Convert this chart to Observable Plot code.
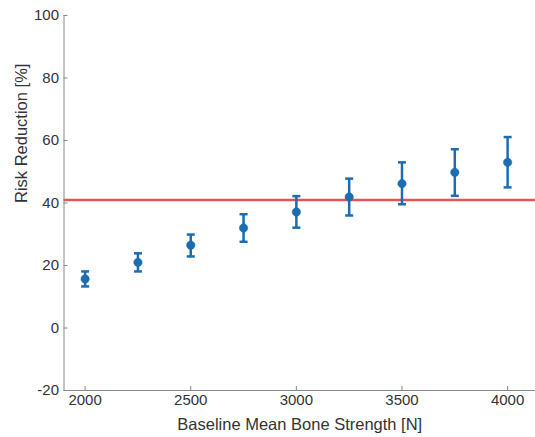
<!DOCTYPE html>
<html>
<head>
<meta charset="utf-8">
<script src="https://cdn.jsdelivr.net/npm/d3@7"></script>
<script src="https://cdn.jsdelivr.net/npm/@observablehq/plot@0.6"></script>
<style>
  html, body { margin: 0; padding: 0; background: #fff; }
  #chart { width: 535px; height: 437px; }
  svg { font-family: "Liberation Sans", Arial, sans-serif; }
</style>
</head>
<body>
<div id="chart"></div>
<script>
const strength = [2000, 2250, 2500, 2750, 3000, 3250, 3500, 3750, 4000];
const reduction = [15.7, 21.0, 26.5, 32.0, 37.1, 41.9, 46.2, 49.8, 53.0];
const lower = [13.3, 18.1, 22.9, 27.6, 32.1, 36.0, 39.6, 42.3, 45.0];
const upper = [18.1, 23.9, 29.9, 36.4, 42.2, 47.8, 53.0, 57.2, 61.1];
const threshold = [41];
const xTicks = [2000, 2500, 3000, 3500, 4000];
const yTicks = [-20, 0, 20, 40, 60, 80, 100];

const data = strength.map((s, i) => ({x: s, y: reduction[i], lo: lower[i], hi: upper[i]}));

const blue = "#1b6cb0";
const capSymbol = {
  draw(ctx, size) {
    const r = Math.sqrt(size / Math.PI);
    ctx.moveTo(-r, 0);
    ctx.lineTo(r, 0);
  }
};
const fmt = d => String(d);

const chart = Plot.plot({
  width: 535,
  height: 437,
  marginLeft: 63.5,
  marginRight: 0,
  marginTop: 15,
  marginBottom: 47,
  style: {fontFamily: "'Liberation Sans', Arial, sans-serif", color: "#333", background: "#fff"},
  x: {domain: [1900, 4132]},
  y: {domain: [-20, 100]},
  marks: [
    Plot.ruleY(threshold, {stroke: "#e05555", strokeWidth: 2.5}),
    Plot.ruleX(data, {x: "x", y1: "lo", y2: "hi", stroke: blue, strokeWidth: 2.5}),
    Plot.dot(data, {x: "x", y: "lo", symbol: capSymbol, r: 4, stroke: blue, strokeWidth: 2.5}),
    Plot.dot(data, {x: "x", y: "hi", symbol: capSymbol, r: 4, stroke: blue, strokeWidth: 2.5}),
    Plot.dot(data, {x: "x", y: "y", r: 4.2, fill: blue, stroke: blue, strokeWidth: 0.5}),
    Plot.ruleX([1900], {stroke: "#888", strokeWidth: 1}),
    Plot.ruleY([-20], {stroke: "#888", strokeWidth: 1}),
    Plot.axisX(xTicks, {tickSize: -4, tickPadding: 8, stroke: "#888", fontSize: 15, fill: "#333", label: null, tickFormat: fmt}),
    Plot.axisY(yTicks, {tickSize: -4, tickPadding: 9, stroke: "#888", fontSize: 15, fill: "#333", label: null, tickFormat: fmt}),
    Plot.text(["Baseline Mean Bone Strength [N]"], {frameAnchor: "bottom", dy: 39, fontSize: 16.5, fill: "#333"}),
    Plot.text(["Risk Reduction [%]"], {frameAnchor: "left", dx: -42, rotate: -90, fontSize: 16.5, fill: "#333"})
  ]
});
document.getElementById("chart").appendChild(chart);
</script>
</body>
</html>
